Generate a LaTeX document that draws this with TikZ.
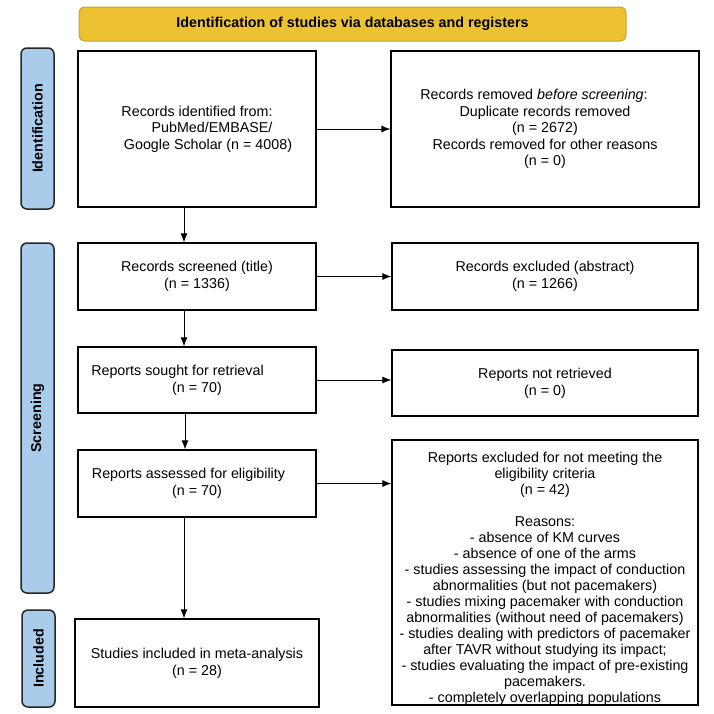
\documentclass[tikz,border=0pt]{standalone}
\usepackage{fontspec}
\setmainfont{Liberation Sans}
\usetikzlibrary{arrows.meta}
\definecolor{banner}{HTML}{ECC232}
\definecolor{bannerline}{HTML}{C9A133}
\definecolor{phase}{HTML}{A9CCEA}

\begin{document}
\begin{tikzpicture}[x=1pt,y=-1pt,>={Latex[length=9pt,width=7pt]},
	box/.style={draw,line width=1.2pt,align=center,inner sep=0pt,font=\fontsize{14.3}{16.6}\selectfont},
	phasebox/.style={draw=black!85,fill=phase,line width=1.5pt,rounded corners=6pt,rotate=90,inner sep=0pt,minimum height=33pt,font=\fontsize{14.3}{16.6}\selectfont\bfseries}]
	\useasboundingbox (0,0) rectangle (714,713);
	\node[draw=bannerline,fill=banner,line width=1pt,rounded corners=6pt,minimum width=547pt,minimum height=34pt,inner sep=0pt,font=\fontsize{14.3}{16.6}\selectfont\bfseries] (t) at (352.5,24) {Identification of studies via databases and registers};
	\node[phasebox,minimum width=161pt] (p1) at (37.5,128.5) {Identification};
	\node[phasebox,minimum width=350pt] (p2) at (37.5,418) {Screening};
	\node[phasebox,minimum width=97pt] (p3) at (38.5,658.5) {Included};
	\node[box,minimum width=238pt,minimum height=156pt] (0) at (197,129) {Records identified from:\\\hspace*{30pt}PubMed/EMBASE/\\\hspace*{22pt}Google Scholar (n = 4008)};
	\node[box,minimum width=308pt,minimum height=156pt] (1) at (545,129) {Records removed \textit{before screening}:\hspace*{22pt}\\Duplicate records removed\\(n = 2672)\\Records removed for other reasons\\(n = 0)};
	\node[box,minimum width=238pt,minimum height=67pt] (2) at (197,276.5) {Records screened (title)\\(n = 1336)};
	\node[box,minimum width=306pt,minimum height=67pt] (3) at (545,276.5) {Records excluded (abstract)\\(n = 1266)};
	\node[box,minimum width=238pt,minimum height=66pt] (4) at (197,380) {Reports sought for retrieval\hspace*{39pt}\\(n = 70)};
	\node[box,minimum width=306pt,minimum height=66pt] (5) at (545,383) {Reports not retrieved\\(n = 0)};
	\node[box,minimum width=238pt,minimum height=67pt] (6) at (197,483.5) {Reports assessed for eligibility\hspace*{17pt}\\(n = 70)};
	\node[box,minimum width=306pt,minimum height=265pt,font=\fontsize{14.3}{16}\selectfont] (7) at (545,572.5) {\rule{0pt}{22pt}Reports excluded for not meeting the\\eligibility criteria\\(n = 42)\\[16pt]Reasons:\\- absence of KM curves\\- absence of one of the arms\\- studies assessing the impact of conduction\\abnormalities (but not pacemakers)\\- studies mixing pacemaker with conduction\\abnormalities (without need of pacemakers)\\- studies dealing with predictors of pacemaker\\after TAVR without studying its impact;\\- studies evaluating the impact of pre-existing\\pacemakers.\\- completely overlapping populations};
	\node[box,minimum width=244pt,minimum height=88pt] (8) at (197,663) {Studies included in meta-analysis\\(n = 28)};
	\draw [->,line width=1pt](0)--(1);
	\draw [->,line width=1pt](2)--(3);
	\draw [->,line width=1pt](4.east)--(4.east -| 5.west);
	\draw [->,line width=1pt](6.east)--(6.east -| 7.west);
	\draw [->,line width=1pt]([xshift=-13pt]0.south)--([xshift=-13pt]2.north);
	\draw [->,line width=1pt]([xshift=-13pt]2.south)--([xshift=-13pt]4.north);
	\draw [->,line width=1pt]([xshift=-12pt]4.south)--([xshift=-12pt]6.north);
	\draw [->,line width=1pt]([xshift=-13pt]6.south)--([xshift=-13pt]8.north);
\end{tikzpicture}
\end{document}
